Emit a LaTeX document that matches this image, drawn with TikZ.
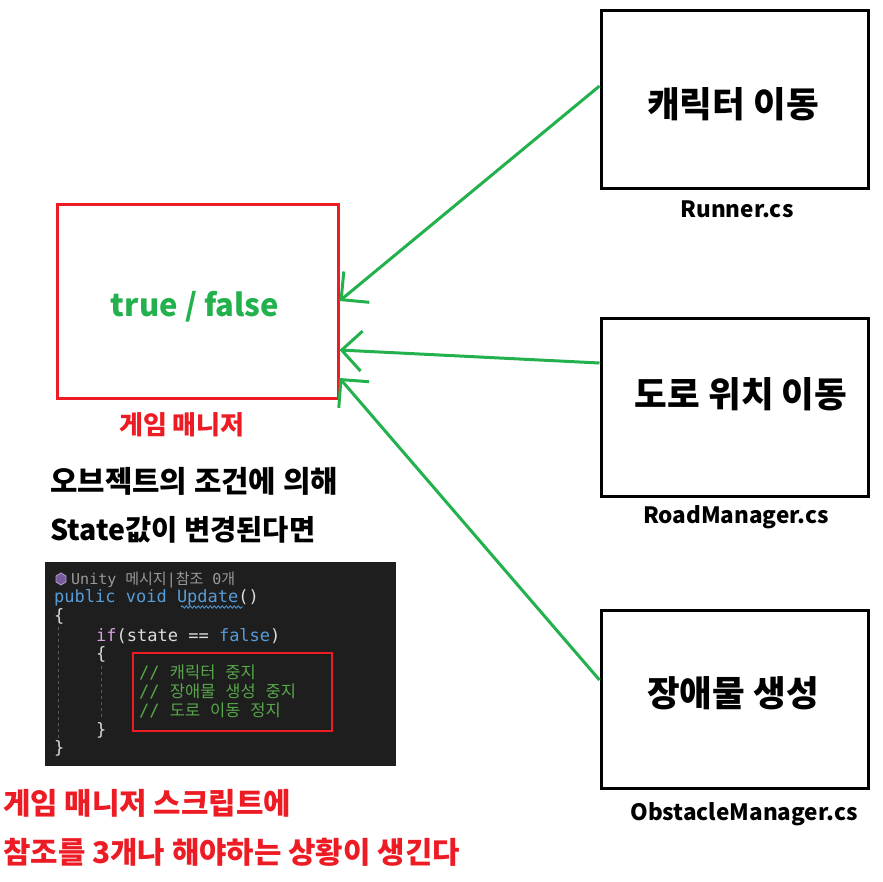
\documentclass[tikz,border=0pt]{standalone}
\usepackage{fontspec}
\setmainfont{Noto Sans CJK KR}
\newfontfamily\codefont{DejaVu Sans Mono}
\newfontfamily\krfont{Noto Sans CJK KR}
\usetikzlibrary{arrows.meta,decorations.pathmorphing}
\definecolor{pred}{HTML}{ED1C24}
\definecolor{pgreen}{HTML}{22B14C}
\definecolor{codebg}{HTML}{1E1E1E}
\definecolor{codetxt}{HTML}{DCDCDC}
\definecolor{codekey}{HTML}{569CD6}
\definecolor{codeif}{HTML}{D8A0DF}
\definecolor{codecmt}{HTML}{57A64A}
\definecolor{codegrey}{HTML}{999999}
\definecolor{codeguide}{HTML}{5A5A5A}
\definecolor{codeicon}{HTML}{7A5A9E}
\newcommand\hangul[1]{{\krfont\fontsize{16.5}{18}\selectfont\spaceskip=0.6em #1}}

\tikzset{
  scriptbox/.style={draw=black, line width=3pt, minimum width=267pt, minimum height=178pt},
  scripttxt/.style={inner sep=0pt, font={\fontsize{35.5}{40}\selectfont\bfseries}},
  filelbl/.style={inner sep=0pt, font={\fontsize{22.5}{26}\selectfont\bfseries}},
  bigtxt/.style={anchor=west, inner sep=0pt, font={\fontsize{29.8}{34}\selectfont\bfseries}},
  callarrow/.style={draw=pgreen, line width=3pt, -{Straight Barb[length=20pt,width=40pt]}},
  codeline/.style={anchor=base west, inner sep=0pt, text=codetxt,
    font={\codefont\fontsize{17}{19}\selectfont}},
  codecmt/.style={codeline, text=codecmt},
}

\begin{document}
\begin{tikzpicture}[x=1pt,y=-1pt]
\useasboundingbox (0,0) rectangle (883,881);

% game manager
\node[draw=pred, line width=3pt, minimum width=281pt, minimum height=194pt] (gm) at (197.5,301) {};
\node[inner sep=0pt, text=pgreen, font={\fontsize{31}{36}\selectfont\bfseries}] (state) at (195,307) {true / false};
\node[inner sep=0pt, text=pred, font={\fontsize{26}{30}\selectfont\bfseries}] (gmlbl) at (182,425) {게임 매니저};

% scripts
\node[scriptbox] (move) at (734.5,99) {};
\node[scriptbox] (road) at (734.5,407) {};
\node[scriptbox] (obst) at (734.5,699) {};
\node[scripttxt] (movetxt) at (733,104) {캐릭터 이동};
\node[scripttxt] (roadtxt) at (741,394) {도로 위치 이동};
\node[scripttxt] (obsttxt) at (733,693) {장애물 생성};
\node[filelbl] (movelbl) at (737,209) {Runner.cs};
\node[filelbl] (roadlbl) at (736,517) {RoadManager.cs};
\node[filelbl] (obstlbl) at (744,814) {ObstacleManager.cs};

\draw[callarrow] ([yshift=13pt]move.west) -- (gm.east);
\draw[callarrow] ([yshift=44pt]road.west) -- ([yshift=-49pt]gm.east);
\draw[callarrow] ([yshift=19pt]obst.west) -- ([yshift=-77pt]gm.east);

% notes
\node[bigtxt] (cond1) at (50,481) {오브젝트의 조건에 의해};
\node[bigtxt, font={\fontsize{28.5}{33}\selectfont\bfseries}] (cond2) at (50,530) {State값이 변경된다면};
\node[bigtxt, text=pred] (res1) at (3,803) {게임 매니저 스크립트에};
\node[bigtxt, text=pred] (res2) at (3,852) {참조를 3개나 해야하는 상황이 생긴다};

% code snippet
\fill[codebg] (45,562) rectangle (396,766);
\draw[codeguide, dashed, line width=1pt] (58,627) -- (58,740);
\draw[codeguide, dashed, line width=1pt] (101,666) -- (101,720);
\draw[codeicon!60!white, fill=codeicon, line width=0.8pt] (61,573) -- (66,576) -- (66,582) -- (61,585) -- (56,582) -- (56,576) -- cycle;
\node[anchor=base west, inner sep=0pt, text=codegrey, font={\codefont\fontsize{15}{17}\selectfont}] (hdr) at (71,584)
  {Unity {\krfont 메시지}|{\krfont 참조} 0{\krfont 개}};
\node[codeline] (ln1) at (54,602) {\textcolor{codekey}{public void Update}()};
\draw[codekey, line width=0.8pt, decorate, decoration={snake, amplitude=1.2pt, segment length=4pt}] (181,607) -- (243,607);
\node[codeline] (ln2) at (54,621) {\{};
\node[codeline] (ln3) at (96,641) {\textcolor{codeif}{if}(state == \textcolor{codekey}{false})};
\node[codeline] (ln4) at (96,659) {\{};
\node[codecmt] (cmt1) at (139,678) {// \hangul{캐릭터 중지}};
\node[codecmt] (cmt2) at (139,697) {// \hangul{장애물 생성 중지}};
\node[codecmt] (cmt3) at (139,716) {// \hangul{도로 이동 정지}};
\node[codeline] (ln5) at (96,735) {\}};
\node[codeline] (ln6) at (54,753) {\}};
\draw[pred, line width=2.5pt] (133,653) rectangle (332,731);
\end{tikzpicture}
\end{document}
